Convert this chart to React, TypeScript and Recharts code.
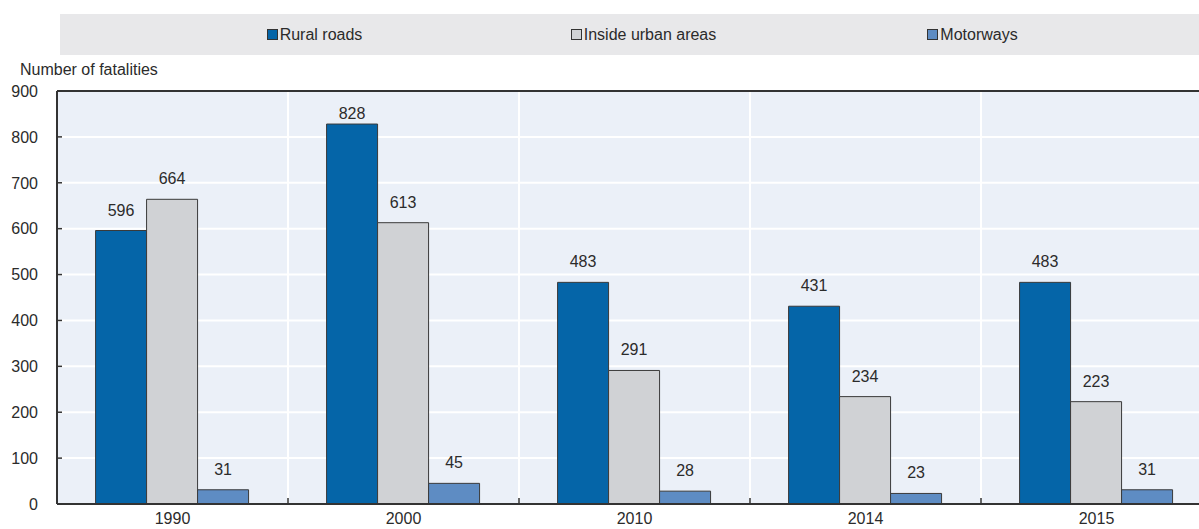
import { BarChart, Bar, XAxis, YAxis, CartesianGrid, LabelList, ReferenceLine } from 'recharts';

const years = ['1990', '2000', '2010', '2014', '2015'];
const ruralRoads = [596, 828, 483, 431, 483];
const urbanAreas = [664, 613, 291, 234, 223];
const motorways = [31, 45, 28, 23, 31];
const yTicks = [0, 100, 200, 300, 400, 500, 600, 700, 800, 900];

const seriesList = [
  { key: 'rural', name: 'Rural roads', color: '#0565A8' },
  { key: 'urban', name: 'Inside urban areas', color: '#D0D2D5' },
  { key: 'motor', name: 'Motorways', color: '#5E8CC3' },
];

const data = years.map((year, i) => ({
  year,
  rural: ruralRoads[i],
  urban: urbanAreas[i],
  motor: motorways[i],
}));

const FONT = '"Liberation Sans", Arial, Helvetica, sans-serif';
const TEXT = '#2b2b2b';
const AXIS = '#333333';
const CHART_W = 1212;
const CHART_H = 529;
const MARGIN = { top: 91, right: 0, bottom: 0, left: 0 };
const Y_W = 57;
const Y_GAP = 19;
const BAND = (CHART_W - MARGIN.left - MARGIN.right - Y_W) / years.length;

const YTick = (props: any) => {
  const { x, y, payload } = props;
  const axisX = x + Y_GAP;
  return (
    <g>
      <text x={x} y={y} dy="0.36em" textAnchor="end" fontSize={16} fill={TEXT} fontFamily={FONT}>
        {payload.value}
      </text>
      <line x1={axisX} x2={axisX + 5} y1={y} y2={y} stroke={AXIS} strokeWidth={1.5} />
    </g>
  );
};

const XTick = (props: any) => {
  const { x, y, payload, index } = props;
  const left = x - BAND / 2;
  return (
    <g>
      <text x={x} y={y + 20} textAnchor="middle" fontSize={16} fill={TEXT} fontFamily={FONT}>
        {payload.value}
      </text>
      {index > 0 && <line x1={left} x2={left} y1={y} y2={y - 6} stroke={AXIS} strokeWidth={1.5} />}
    </g>
  );
};

const BarLabel = (props: any) => {
  const { x, y, width, value } = props;
  const baseline = Math.max(y - 15, MARGIN.top + 28);
  return (
    <text x={x + width / 2} y={baseline} textAnchor="middle" fontSize={16} fill={TEXT} fontFamily={FONT}>
      {value}
    </text>
  );
};

const LegendBox = () => (
  <div
    style={{
      position: 'absolute',
      left: 60,
      top: 14,
      width: 1160,
      height: 41,
      background: '#E8E8EA',
    }}
  >
    <div style={{ position: 'absolute', left: 90, top: 0, height: 41, display: 'flex' }}>
      {seriesList.map((s) => (
        <div
          key={s.key}
          style={{
            width: 329,
            display: 'flex',
            alignItems: 'center',
            justifyContent: 'center',
            fontFamily: FONT,
            fontSize: 16,
            color: TEXT,
          }}
        >
          <span
            style={{
              display: 'inline-block',
              width: 9,
              height: 9,
              background: s.color,
              border: '1px solid #333',
              marginRight: 2,
            }}
          />
          {s.name}
        </div>
      ))}
    </div>
  </div>
);

export default function App() {
  return (
    <div style={{ position: 'absolute', left: 0, top: 0, width: 1199, height: 529, overflow: 'hidden', background: '#fff' }}>
      <LegendBox />
      <div
        style={{
          position: 'absolute',
          left: 20,
          top: 61,
          fontFamily: FONT,
          fontSize: 16,
          color: TEXT,
          lineHeight: '18px',
        }}
      >
        Number of fatalities
      </div>
      <div style={{ position: 'absolute', left: 0, top: 0 }}>
        <BarChart
          width={CHART_W}
          height={CHART_H}
          data={data}
          margin={MARGIN}
          barGap={0}
          barCategoryGap="16.7%"
        >
          <CartesianGrid
            fill="#EBF0F8"
            stroke="#ffffff"
            strokeWidth={2}
            verticalCoordinatesGenerator={({ offset }: any) =>
              years.map((_, i) => offset.left + (i * offset.width) / years.length)
            }
          />
          <XAxis
            dataKey="year"
            height={25}
            tickLine={false}
            tickSize={0}
            tickMargin={0}
            axisLine={{ stroke: AXIS, strokeWidth: 2 }}
            tick={<XTick />}
            interval={0}
          />
          <YAxis
            width={Y_W}
            domain={[0, 900]}
            ticks={yTicks}
            tickLine={false}
            tickSize={0}
            tickMargin={Y_GAP}
            axisLine={{ stroke: AXIS, strokeWidth: 2 }}
            tick={<YTick />}
            interval={0}
          />
          <ReferenceLine y={900} stroke={AXIS} strokeWidth={2} />
          {seriesList.map((s) => (
            <Bar
              key={s.key}
              dataKey={s.key}
              name={s.name}
              fill={s.color}
              stroke="#3a3a3a"
              strokeWidth={1}
              isAnimationActive={false}
            >
              <LabelList dataKey={s.key} content={<BarLabel />} />
            </Bar>
          ))}
        </BarChart>
      </div>
    </div>
  );
}
